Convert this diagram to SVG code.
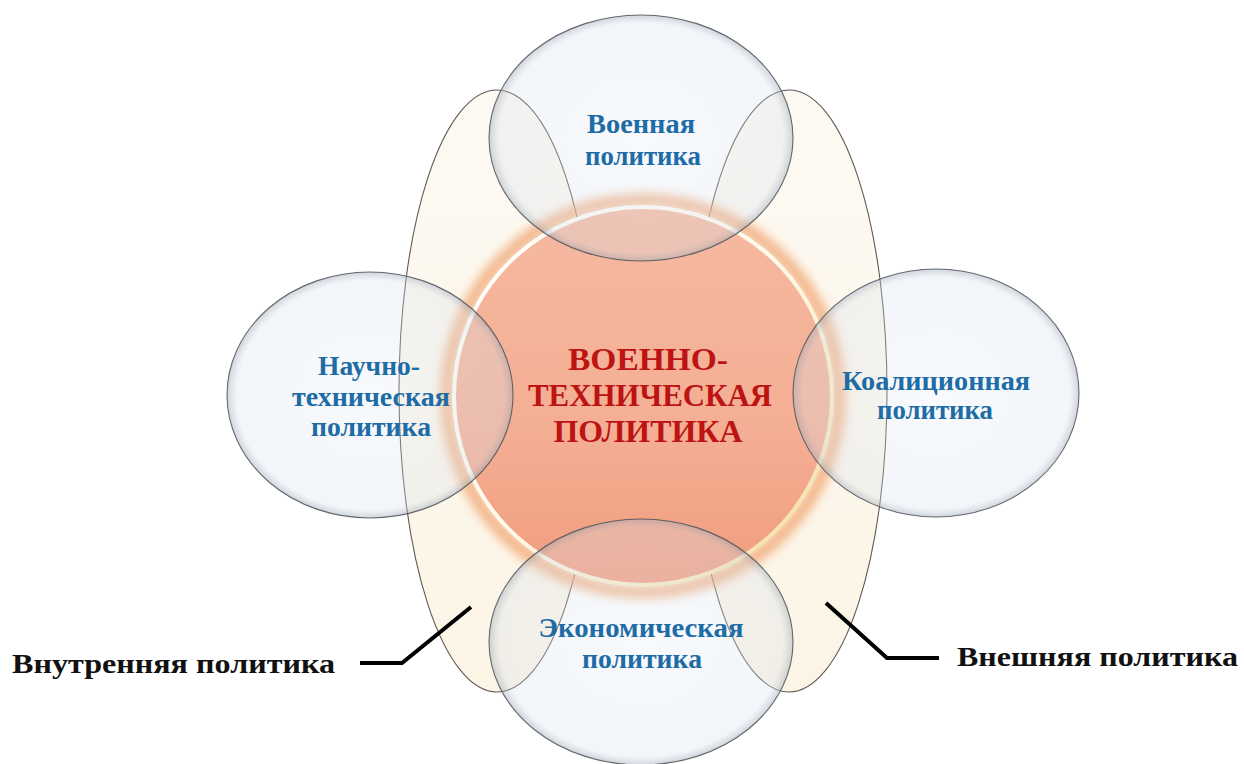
<svg xmlns="http://www.w3.org/2000/svg" width="1244" height="764" viewBox="0 0 1244 764">
  <defs>
    <style>
      .blue { font-family: "Liberation Serif", "Times New Roman", serif; font-weight: bold; font-size: 27px; fill: #1e6ca6; text-anchor: middle; }
      .core { font-family: "Liberation Serif", "Times New Roman", serif; font-weight: bold; font-size: 32px; fill: #bd1313; text-anchor: middle; }
      .label { font-family: "Liberation Serif", "Times New Roman", serif; font-weight: bold; font-size: 27px; fill: #111; }
      .band { fill: url(#bandFill); stroke: #5f5a52; stroke-width: 1.1; }
      .bubble { fill: url(#bubbleFill); stroke: #4e5258; stroke-width: 1.1; stroke-opacity: 0.85; }
      .leader { fill: none; stroke: #000; stroke-width: 4; stroke-linejoin: miter; }
    </style>
    <linearGradient id="bandFill" x1="0" y1="0" x2="0" y2="1">
      <stop offset="0" stop-color="#fdfaf3"/>
      <stop offset="1" stop-color="#fcf5e6"/>
    </linearGradient>
    <radialGradient id="bubbleFill" cx="0.5" cy="0.5" r="0.5">
      <stop offset="0" stop-color="#e2eaf5" stop-opacity="0.26"/>
      <stop offset="0.93" stop-color="#d6dfec" stop-opacity="0.3"/>
      <stop offset="1" stop-color="#9ea9b8" stop-opacity="0.5"/>
    </radialGradient>
    <linearGradient id="coreFill" x1="0" y1="0" x2="0" y2="1">
      <stop offset="0" stop-color="#f5b9a0"/>
      <stop offset="0.6" stop-color="#f4ae93"/>
      <stop offset="1" stop-color="#f19c7e"/>
    </linearGradient>
    <linearGradient id="ringStroke" x1="0" y1="0" x2="1" y2="1">
      <stop offset="0" stop-color="#ffffff"/>
      <stop offset="0.5" stop-color="#fff9ea"/>
      <stop offset="1" stop-color="#f1dc9c"/>
    </linearGradient>
    <filter id="glow" x="-20%" y="-20%" width="140%" height="140%">
      <feGaussianBlur stdDeviation="6"/>
    </filter>
  </defs>

  <rect width="1244" height="764" fill="#ffffff"/>

  <!-- tall bands: internal and external policy -->
  <g id="internal-policy">
    <ellipse class="band" cx="497" cy="391" rx="98" ry="301"/>
  </g>
  <g id="external-policy">
    <ellipse class="band" cx="789" cy="391" rx="98" ry="301"/>
  </g>

  <!-- central node with soft orange halo -->
  <g id="military-technical-policy">
    <circle cx="643" cy="396" r="196" fill="none" stroke="#f0a06a" stroke-width="10" filter="url(#glow)"/>
    <circle cx="643" cy="396" r="189" fill="url(#coreFill)" stroke="url(#ringStroke)" stroke-width="4"/>
    <text class="core" x="648" y="370" textLength="160" lengthAdjust="spacingAndGlyphs">ВОЕННО-</text>
    <text class="core" x="650" y="406" textLength="244" lengthAdjust="spacingAndGlyphs">ТЕХНИЧЕСКАЯ</text>
    <text class="core" x="648" y="442" textLength="189" lengthAdjust="spacingAndGlyphs">ПОЛИТИКА</text>
  </g>

  <!-- surrounding translucent bubbles -->
  <g id="military-policy">
    <ellipse class="bubble" cx="641" cy="138" rx="152" ry="123"/>
    <text class="blue" x="641" y="133" textLength="108" lengthAdjust="spacingAndGlyphs">Военная</text>
    <text class="blue" x="643" y="165" textLength="116" lengthAdjust="spacingAndGlyphs">политика</text>
  </g>
  <g id="science-technical-policy">
    <ellipse class="bubble" cx="370" cy="395" rx="143" ry="123"/>
    <text class="blue" x="369" y="375" textLength="102" lengthAdjust="spacingAndGlyphs">Научно-</text>
    <text class="blue" x="371" y="406" textLength="158" lengthAdjust="spacingAndGlyphs">техническая</text>
    <text class="blue" x="371" y="436" textLength="120" lengthAdjust="spacingAndGlyphs">политика</text>
  </g>
  <g id="coalition-policy">
    <ellipse class="bubble" cx="936" cy="393" rx="143" ry="124"/>
    <text class="blue" x="936" y="390" textLength="188" lengthAdjust="spacingAndGlyphs">Коалиционная</text>
    <text class="blue" x="935" y="419" textLength="116" lengthAdjust="spacingAndGlyphs">политика</text>
  </g>
  <g id="economic-policy">
    <ellipse class="bubble" cx="641" cy="642" rx="152" ry="123"/>
    <text class="blue" x="641" y="637" textLength="205" lengthAdjust="spacingAndGlyphs">Экономическая</text>
    <text class="blue" x="642" y="668" textLength="120" lengthAdjust="spacingAndGlyphs">политика</text>
  </g>

  <!-- leader lines from the bands to their labels -->
  <g id="connectors">
    <polyline class="leader" points="471,607 402,663 360,663"/>
    <polyline class="leader" points="826,603 887,658 939,658"/>
  </g>

  <g id="labels">
    <text class="label" x="12" y="673" textLength="323" lengthAdjust="spacingAndGlyphs">Внутренняя политика</text>
    <text class="label" x="957" y="666" textLength="281" lengthAdjust="spacingAndGlyphs">Внешняя политика</text>
  </g>
</svg>
